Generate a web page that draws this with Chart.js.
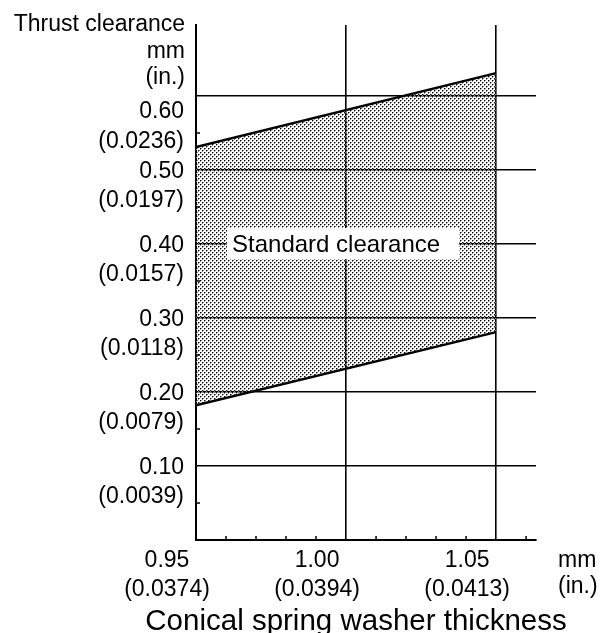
<!DOCTYPE html>
<html>
<head>
<meta charset="utf-8">
<script src="https://cdn.jsdelivr.net/npm/chart.js@4.4.1/dist/chart.umd.min.js"></script>
<style>
  html, body { margin: 0; padding: 0; background: #fff; }
  #wrap { width: 600px; height: 633px; position: relative; }
</style>
</head>
<body>
<div id="wrap"><canvas id="chart"></canvas></div>
<script>
// ── Data ───────────────────────────────────────────────────────────────────
const thickness      = [0.95, 1.05];
const upperClearance = [0.531, 0.631];
const lowerClearance = [0.182, 0.281];

const xTicks      = [0.95, 1.00, 1.05];
const xTickLabels = [["0.95", "(0.0374)"], ["1.00", "(0.0394)"], ["1.05", "(0.0413)"]];
const xMinorTicks = [0.96, 0.97, 0.98, 0.99, 1.01, 1.02, 1.03, 1.04, 1.06];

const yTicks      = [0.1, 0.2, 0.3, 0.4, 0.5, 0.6];
// top label sits a line lower in the original, hence the empty first line
const yTickLabels = [
  ["0.10", "(0.0039)"],
  ["0.20", "(0.0079)"],
  ["0.30", "(0.0118)"],
  ["0.40", "(0.0157)"],
  ["0.50", "(0.0197)"],
  ["", "0.60", "(0.0236)"],
];
const yMinorTicks = [0.05, 0.15, 0.25, 0.35, 0.45, 0.55];

const yTitle      = ["Thrust clearance", "mm", "(in.)"];
const xUnit       = ["mm", "(in.)"];
const xTitle      = "Conical spring washer thickness";
const bandLabel   = "Standard clearance";
const bandLabelAt = { x: 0.962, y: 0.40 };

const FONT = "'Liberation Sans', Arial, Helvetica, sans-serif";
Chart.defaults.font.family = FONT;
Chart.defaults.color = "#000";

const canvas = document.getElementById("chart");

// stipple fill like the printed screen tone
function stipplePattern() {
  const tile = document.createElement("canvas");
  tile.width = 4;
  tile.height = 4;
  const g = tile.getContext("2d");
  g.fillStyle = "#000";
  g.fillRect(0, 0, 1, 1);
  g.fillRect(2, 2, 1, 1);
  g.fillStyle = "#8a8a8a";
  g.fillRect(1, 0, 1, 1);
  g.fillRect(0, 1, 1, 1);
  g.fillRect(3, 2, 1, 1);
  g.fillRect(2, 3, 1, 1);
  return canvas.getContext("2d").createPattern(tile, "repeat");
}

const decorations = {
  id: "decorations",
  afterDatasetsDraw(chart) {
    const { ctx, scales: { x, y } } = chart;
    ctx.save();
    ctx.font = `24px ${FONT}`;
    const tx = x.getPixelForValue(bandLabelAt.x);
    const ty = y.getPixelForValue(bandLabelAt.y);
    const w = ctx.measureText(bandLabel).width;
    ctx.fillStyle = "#fff";
    ctx.fillRect(tx - 5, ty - 16, w + 24, 31);
    ctx.fillStyle = "#000";
    ctx.textBaseline = "middle";
    ctx.fillText(bandLabel, tx, ty + 1);
    ctx.restore();
  },
  afterDraw(chart) {
    const { ctx, chartArea, scales: { x, y } } = chart;
    ctx.save();
    ctx.strokeStyle = "#000";
    ctx.lineWidth = 1.5;
    ctx.beginPath();
    xMinorTicks.forEach((v) => {
      const px = x.getPixelForValue(v);
      ctx.moveTo(px, chartArea.bottom);
      ctx.lineTo(px, chartArea.bottom - 4);
    });
    yMinorTicks.forEach((v) => {
      const py = y.getPixelForValue(v);
      ctx.moveTo(chartArea.left, py);
      ctx.lineTo(chartArea.left + 4, py);
    });
    ctx.stroke();

    ctx.fillStyle = "#000";
    ctx.font = `23px ${FONT}`;
    ctx.textBaseline = "alphabetic";
    ctx.textAlign = "right";
    const yt = [6, 33, 59];
    yTitle.forEach((t, i) => ctx.fillText(t, chartArea.left - 11, chartArea.top + yt[i]));

    ctx.textAlign = "left";
    const xu = [27, 53];
    xUnit.forEach((t, i) => ctx.fillText(t, chartArea.right + 22, chartArea.bottom + xu[i]));

    ctx.font = `29.5px ${FONT}`;
    ctx.textAlign = "center";
    ctx.fillText(xTitle, chartArea.left + 160, chartArea.bottom + 90);
    ctx.restore();
  },
};

new Chart(canvas, {
  type: "line",
  data: {
    datasets: [
      {
        data: thickness.map((t, i) => ({ x: t, y: lowerClearance[i] })),
        borderColor: "#000",
        borderWidth: 2.4,
        pointRadius: 0,
        fill: false,
      },
      {
        data: thickness.map((t, i) => ({ x: t, y: upperClearance[i] })),
        borderColor: "#000",
        borderWidth: 2.4,
        pointRadius: 0,
        fill: "-1",
        backgroundColor: stipplePattern(),
      },
    ],
  },
  options: {
    responsive: true,
    maintainAspectRatio: false,
    animation: false,
    layout: { padding: { top: 25, right: 64, bottom: 0, left: 0 } },
    plugins: { legend: { display: false }, tooltip: { enabled: false } },
    scales: {
      x: {
        type: "linear",
        min: 0.95,
        max: 1.0633,
        afterBuildTicks: (s) => { s.ticks = xTicks.map((v) => ({ value: v })); },
        afterFit: (s) => { s.height = 93; s.paddingLeft = 0; s.paddingRight = 0; },
        grid: { color: "#000", lineWidth: 1.6, drawTicks: false },
        border: { color: "#000", width: 2 },
        ticks: {
          autoSkip: false,
          maxRotation: 0,
          padding: 6,
          labelOffset: -29,
          color: "#000",
          font: { size: 23, lineHeight: 1.26 },
          callback: (v, i) => xTickLabels[i],
        },
      },
      y: {
        type: "linear",
        min: 0,
        max: 0.696,
        afterBuildTicks: (s) => { s.ticks = yTicks.map((v) => ({ value: v })); },
        afterFit: (s) => { s.width = 196; s.paddingTop = 0; s.paddingBottom = 0; },
        grid: { color: "#000", lineWidth: 1.6, drawTicks: false },
        border: { color: "#000", width: 2 },
        ticks: {
          autoSkip: false,
          padding: 12,
          labelOffset: 16,
          color: "#000",
          font: { size: 23, lineHeight: 1.28 },
          callback: (v, i) => yTickLabels[i],
        },
      },
    },
  },
  plugins: [decorations],
});
</script>
</body>
</html>
